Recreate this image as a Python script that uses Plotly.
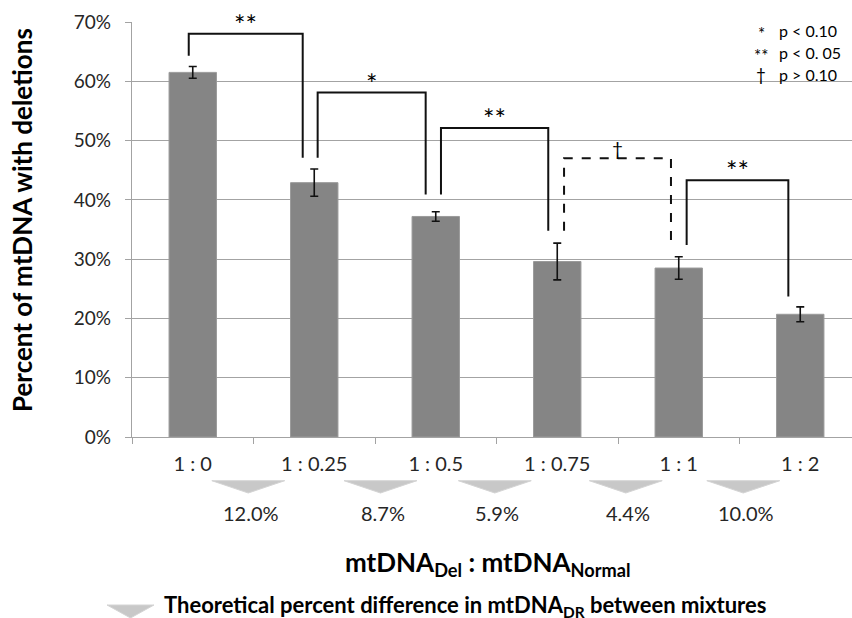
import plotly.graph_objects as go

# ---------------- data ----------------
categories = ["1 : 0", "1 : 0.25", "1 : 0.5", "1 : 0.75", "1 : 1", "1 : 2"]
pct_deletions = [61.5, 42.9, 37.2, 29.6, 28.5, 20.7]
pct_error = [1.0, 2.3, 0.8, 3.1, 1.9, 1.25]
theoretical_diff = ["12.0%", "8.7%", "5.9%", "4.4%", "10.0%"]
bracket_pairs = [(0, 1), (1, 2), (2, 3), (3, 4), (4, 5)]
bracket_marks = ["**", "*", "**", "†", "**"]
significance_symbols = ["*", "**", "†"]
significance_text = ["p < 0.10", "p < 0. 05", "p > 0.10"]

# ---------------- layout geometry (not data) ----------------
W, H = 852, 618
L, R, T, B = 132, 0, 22, 181
PW, PH = W - L - R, H - T - B
YMAX = 70
XMIN = -0.5
XMAX = XMIN + PW / 121.5


def px_to_paper_y(py):
    return (H - B - py) / PH


def px_to_paper_x(px):
    return (px - L) / PW


# bracket geometry: (left offset, right offset, top, left leg bottom, right leg bottom) in % units
bracket_geom = [
    (-0.033, -0.095, 68.0, 64.3, 47.1),
    (0.028, -0.083, 58.1, 47.1, 40.9),
    (0.043, -0.074, 52.1, 40.9, 34.8),
    (0.056, -0.064, 47.0, 34.8, 32.4),
    (0.065, -0.098, 43.3, 32.4, 23.7),
]
tri_offsets = [-0.043, 0.045, -0.014, 0.064, 0.031]

BAR_COLOR = "#858585"
GRID = "#a3a3a3"
TXT = "#262626"
INK = "black"
FONT = "Lato"

fig = go.Figure()
fig.add_trace(go.Bar(
    x=list(range(len(categories))),
    y=pct_deletions,
    width=0.39,
    marker=dict(color=BAR_COLOR, line=dict(color="#9a9a9a", width=1)),
    error_y=dict(type="data", array=pct_error, visible=True,
                 color="#111111", thickness=1.6, width=4),
    showlegend=False,
    hoverinfo="skip",
))

shapes = []
annotations = []

# significance brackets
for (a, b), mark, (lo, ro, top, lb, rb) in zip(bracket_pairs, bracket_marks, bracket_geom):
    x0, x1 = a + lo, b + ro
    dashed = mark == "†"
    shapes.append(dict(
        type="path", xref="x", yref="y",
        path=f"M {x0} {lb} L {x0} {top} L {x1} {top} L {x1} {rb}",
        line=dict(color="#111111", width=2, dash="dash" if dashed else "solid"),
    ))
    annotations.append(dict(
        x=(x0 + x1) / 2, y=top, xref="x", yref="y",
        text=mark, showarrow=False, yanchor="bottom",
        yshift=-9 if mark != "†" else -4,
        font=dict(family=FONT, size=27 if mark != "†" else 19, color=INK),
    ))

# theoretical difference triangles and labels
tri_top, tri_bot = px_to_paper_y(480.7), px_to_paper_y(493)
for i, (lab, off) in enumerate(zip(theoretical_diff, tri_offsets)):
    c = i + 0.5 + off
    hw = 0.30
    shapes.append(dict(
        type="path", xref="x", yref="paper",
        path=f"M {c - hw} {tri_top} L {c + hw} {tri_top} L {c} {tri_bot} Z",
        fillcolor="#c8c8c8", line=dict(color="#d4d4d4", width=1),
    ))
    annotations.append(dict(
        x=c + 0.02, y=px_to_paper_y(513), xref="x", yref="paper",
        text=lab, showarrow=False, xanchor="center", yanchor="middle",
        font=dict(family=FONT, size=20, color=TXT),
    ))

# bottom legend
lt_top, lt_bot = px_to_paper_y(605), px_to_paper_y(618)
lx0, lx1 = px_to_paper_x(107), px_to_paper_x(154)
shapes.append(dict(
    type="path", xref="paper", yref="paper",
    path=f"M {lx0} {lt_top} L {lx1} {lt_top} L {(lx0 + lx1) / 2} {lt_bot} Z",
    fillcolor="#c8c8c8", line=dict(color="#d4d4d4", width=1),
))
annotations.append(dict(
    x=px_to_paper_x(162), y=px_to_paper_y(606), xref="paper", yref="paper",
    text="<b>Theoretical percent difference in mtDNA<sub>DR</sub> between mixtures</b>",
    showarrow=False, xanchor="left", yanchor="middle",
    font=dict(family=FONT, size=22, color=INK),
))

# axis titles
annotations.append(dict(
    x=px_to_paper_x(488), y=px_to_paper_y(563), xref="paper", yref="paper",
    text="<b>mtDNA<sub>Del</sub> : mtDNA<sub>Normal</sub></b>",
    showarrow=False, xanchor="center", yanchor="middle",
    font=dict(family=FONT, size=26, color=INK),
))
annotations.append(dict(
    x=px_to_paper_x(22), y=px_to_paper_y(220), xref="paper", yref="paper",
    text="<b>Percent of mtDNA with deletions</b>", textangle=-90,
    showarrow=False, xanchor="center", yanchor="middle",
    font=dict(family=FONT, size=26, color=INK),
))

# significance key (top right)
key_y = [30.7, 52.3, 74]
for sym, txt, py in zip(significance_symbols, significance_text, key_y):
    annotations.append(dict(
        x=px_to_paper_x(761), y=px_to_paper_y(py), xref="paper", yref="paper",
        text=sym, showarrow=False, xanchor="center", yanchor="middle",
        yshift=-3 if "*" in sym else 0,
        font=dict(family=FONT, size=17, color=INK),
    ))
    annotations.append(dict(
        x=px_to_paper_x(777), y=px_to_paper_y(py), xref="paper", yref="paper",
        text=txt, showarrow=False, xanchor="left", yanchor="middle",
        font=dict(family=FONT, size=16, color=INK),
    ))

fig.update_layout(
    width=W, height=H,
    margin=dict(l=L, r=R, t=T, b=B, pad=0, autoexpand=False),
    paper_bgcolor="white", plot_bgcolor="white",
    font=dict(family=FONT, color=TXT),
    shapes=shapes, annotations=annotations,
)
fig.update_xaxes(
    range=[XMIN, XMAX], automargin=False,
    tickmode="array", tickvals=list(range(len(categories))), ticktext=categories,
    showgrid=False, showline=True, linecolor=GRID, linewidth=1.3,
    ticks="", tickfont=dict(family=FONT, size=20, color=TXT),
    ticklabelstandoff=9, zeroline=False,
    minor=dict(tickmode="array", tickvals=[i + 0.5 for i in range(-1, len(categories))],
               ticks="outside", ticklen=6, tickcolor=GRID, tickwidth=1.3, showgrid=False),
)
fig.update_yaxes(
    range=[0, YMAX], dtick=10, ticksuffix="%", automargin=False,
    showgrid=True, gridcolor=GRID, gridwidth=1.3,
    showline=True, linecolor=GRID, linewidth=1.3,
    ticks="outside", ticklen=6, tickcolor=GRID, tickwidth=1.3,
    tickfont=dict(family=FONT, size=19, color=TXT),
    ticklabelstandoff=10, zeroline=False,
)

fig.write_html("out.html", config={"displayModeBar": False},
               post_script="document.body.style.margin='0';")
